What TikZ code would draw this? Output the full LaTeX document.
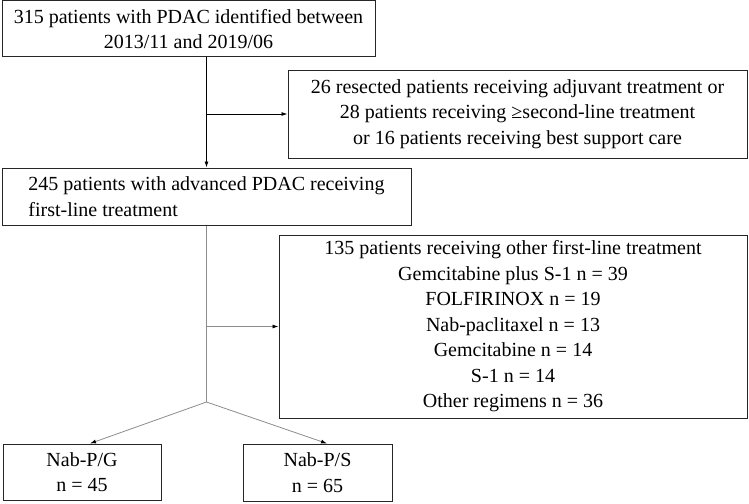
\documentclass[tikz,border=0pt]{standalone}
\usepackage{fontspec}
\setmainfont{Liberation Serif}
\usetikzlibrary{arrows.meta}

\begin{document}
\begin{tikzpicture}[
  x = 1pt, y = -1pt,
  > = {Latex[length=6pt,width=4pt]},
  box/.style = {draw=black!85,line width=1pt,inner sep=0pt,align=center,
    font=\fontsize{20}{25.5}\selectfont},
  flow/.style = {->,line width=0.8pt},
  subflow/.style = {-{Latex[length=6pt,width=4pt,black]},line width=0.8pt,draw=black!45}
  ]
  \useasboundingbox (0,0) rectangle (749,503);

  \node[box,minimum width=373pt,minimum height=56pt] (start) at (188.5,29)
    {315 patients with PDAC identified between\\2013/11 and 2019/06};
  \node[box,minimum width=459pt,minimum height=88pt] (excl) at (517.5,114)
    {26 resected patients receiving adjuvant treatment or\\
     28 patients receiving ≥second-line treatment\\
     or 16 patients receiving best support care};
  \node[box,align=left,minimum width=409pt,minimum height=57pt] (adv) at (206.5,196.5)
    {245 patients with advanced PDAC receiving\\first-line treatment};
  \node[box,minimum width=468pt,minimum height=183pt] (other) at (513,326.5)
    {135 patients receiving other first-line treatment\\
     Gemcitabine plus S-1 n = 39\\
     FOLFIRINOX n = 19\\
     Nab-paclitaxel n = 13\\
     Gemcitabine n = 14\\
     S-1 n = 14\\
     Other regimens n = 36};
  \node[box,minimum width=158pt,minimum height=56pt] (npg) at (82,472)
    {Nab-P/G\\n = 45};
  \node[box,minimum width=149pt,minimum height=57pt] (nps) at (317.5,472.5)
    {Nab-P/S\\n = 65};

  \coordinate (split) at (206.5,402);

  \draw[flow] (adv.north |- start.south) -- (adv.north);
  \draw[flow] (adv.north |- excl.west) -- (excl.west);
  \draw[draw=black!45,line width=0.8pt] (adv.south) -- (split);
  \draw[subflow] (adv.south |- other.west) -- (other.west);
  \draw[subflow] (split) -- ([xshift=8pt]npg.north);
  \draw[subflow] (split) -- ([xshift=9.5pt]nps.north);
\end{tikzpicture}
\end{document}
